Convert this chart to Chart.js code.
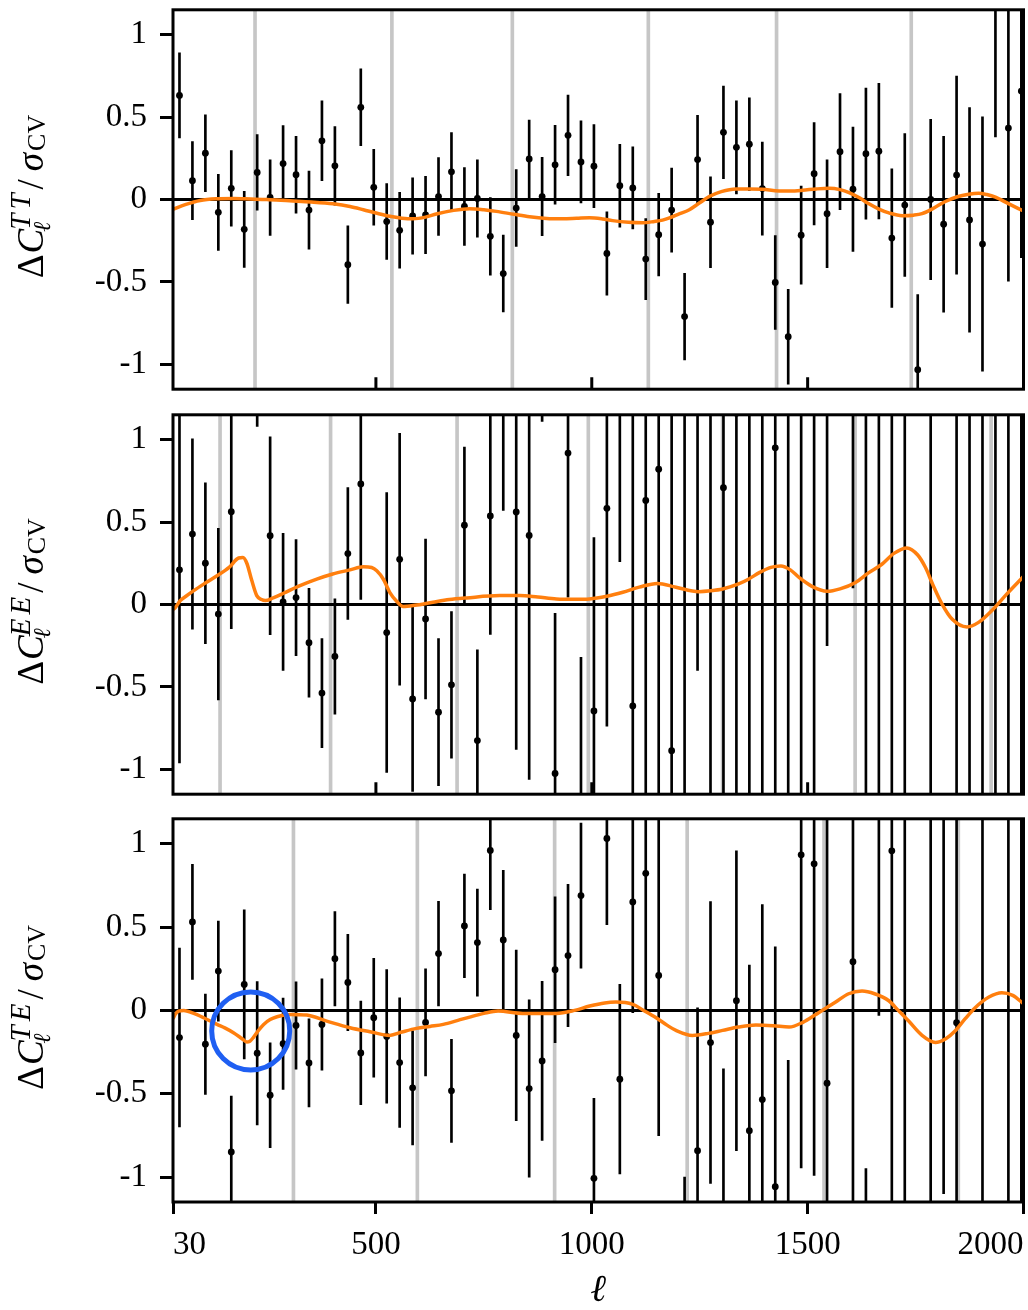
<!DOCTYPE html>
<html>
<head>
<meta charset="utf-8">
<script src="https://cdn.jsdelivr.net/npm/chart.js@4.4.1/dist/chart.umd.min.js"></script>
<style>
  body { margin: 0; background: #fff; width: 1028px; height: 1310px; overflow: hidden; position: relative; }
  canvas { position: absolute; left: 0; }
</style>
</head>
<body>
<canvas id="tt" width="1028" height="445" style="top:-23px"></canvas>
<canvas id="ee" width="1028" height="445" style="top:382px"></canvas>
<canvas id="te" width="1028" height="524" style="top:786px"></canvas>
<script>
// multipole bin centres
const ells = [45, 75, 105, 135, 165, 195, 225, 255, 285, 315, 345, 375, 405, 435, 465, 495, 525, 555,
  585, 615, 645, 675, 705, 735, 765, 795, 825, 855, 885, 915, 945, 975, 1005, 1035, 1065, 1095, 1125,
  1155, 1185, 1215, 1245, 1275, 1305, 1335, 1365, 1395, 1425, 1455, 1485, 1515, 1545, 1575, 1605, 1635,
  1665, 1695, 1725, 1755, 1785, 1815, 1845, 1875, 1905, 1935, 1965, 1995];

const ttValues = [0.631, 0.114, 0.281, -0.078, 0.068, -0.181, 0.164, 0.012, 0.218, 0.150,
  -0.064, 0.356, 0.204, -0.395, 0.559, 0.074, -0.134, -0.187, -0.100, -0.094,
  0.018, 0.168, -0.042, 0.006, -0.223, -0.449, -0.052, 0.246, 0.018, 0.210,
  0.389, 0.228, 0.202, -0.327, 0.084, 0.070, -0.361, -0.213, -0.064, -0.710,
  0.242, -0.138, 0.407, 0.316, 0.335, 0.066, -0.503, -0.832, -0.216, 0.156,
  -0.086, 0.290, 0.062, 0.278, 0.293, -0.234, -0.034, -1.032, 0.000, -0.150,
  0.148, -0.124, -0.270, 1.230, 0.433, 0.657];
const ttErrors = [0.258, 0.237, 0.233, 0.231, 0.229, 0.230, 0.229, 0.229, 0.230, 0.233,
  0.237, 0.242, 0.238, 0.235, 0.233, 0.230, 0.230, 0.230, 0.232, 0.234,
  0.236, 0.237, 0.236, 0.235, 0.235, 0.233, 0.233, 0.236, 0.237, 0.239,
  0.244, 0.249, 0.252, 0.253, 0.251, 0.249, 0.246, 0.251, 0.255, 0.263,
  0.268, 0.275, 0.280, 0.282, 0.281, 0.282, 0.284, 0.288, 0.297, 0.310,
  0.327, 0.352, 0.377, 0.398, 0.411, 0.420, 0.433, 0.455, 0.486, 0.533,
  0.600, 0.681, 0.771, 0.850, 0.928, 1.010];

const eeValues = [0.210, 0.427, 0.250, -0.058, 0.563, 1.900, 1.700, 0.417, 0.016, 0.042,
  -0.232, -0.537, -0.315, 0.309, 0.731, -1.900, -0.170, 0.274, -0.573, -0.088,
  -0.653, -0.487, 0.481, -0.825, 0.537, 1.600, 0.561, 0.419, 2.300, -1.024,
  0.918, -1.500, -0.645, 0.583, 1.600, -0.615, 0.631, 0.820, -0.886, 1.500,
  1.500, -1.400, 0.708, 1.160, -1.600, 1.700, 0.950, -1.700, 1.800, -1.300,
  1.400, 3.500, 1.800, -1.500, 1.600, -1.800, 1.700, -4.000, 1.900, 4.500,
  -1.600, 1.800, -2.000, 1.900, 2.100, -2.200];
const eeErrors = [1.170, 0.577, 0.487, 0.520, 0.709, 0.600, 0.620, 0.600, 0.416, 0.352,
  0.330, 0.331, 0.350, 0.400, 0.700, 0.600, 0.848, 0.763, 0.560, 0.484,
  0.446, 0.444, 0.473, 0.550, 0.718, 1.030, 1.440, 1.480, 1.190, 0.970,
  0.874, 1.180, 1.050, 1.320, 1.340, 1.900, 1.900, 2.000, 2.100, 2.800,
  1.900, 2.800, 2.200, 2.500, 3.000, 3.000, 3.000, 3.100, 3.200, 3.200,
  1.650, 1.500, 1.700, 3.300, 3.400, 3.400, 3.500, 1.500, 3.600, 2.000,
  3.700, 3.800, 3.900, 4.000, 4.200, 4.400];

const teValues = [-0.163, 0.531, -0.203, 0.236, -0.850, 0.156, -0.257, -0.509, -0.200, -0.090,
  -0.315, -0.084, 0.310, 0.168, -0.255, -0.044, -0.156, -0.313, -0.465, -0.072,
  0.341, -0.483, 0.507, 0.407, 0.960, 0.423, -0.150, -0.469, -0.303, 0.244,
  0.329, 0.689, -1.008, 1.032, -0.413, 0.651, 0.823, 0.210, 2.800, -1.900,
  -0.842, -0.193, -1.400, 0.058, -0.722, -0.535, -1.058, -1.600, 0.934, 0.880,
  -0.437, 3.500, 0.292, -2.600, 1.900, 0.958, -1.500, -4.200, 1.700, 2.100,
  -0.074, 4.500, -1.800, -4.800, 1.900, -2.000];
const teErrors = [0.537, 0.345, 0.301, 0.300, 0.335, 0.447, 0.430, 0.315, 0.274, 0.262,
  0.264, 0.274, 0.283, 0.289, 0.311, 0.357, 0.401, 0.389, 0.343, 0.321,
  0.314, 0.309, 0.311, 0.321, 0.355, 0.418, 0.512, 0.532, 0.478, 0.437,
  0.427, 0.435, 0.480, 0.517, 0.569, 0.665, 0.820, 0.962, 1.200, 0.900,
  0.858, 0.846, 1.050, 0.900, 0.994, 1.170, 1.440, 1.300, 1.880, 1.870,
  2.200, 1.800, 2.300, 1.650, 1.930, 2.400, 2.900, 2.000, 3.000, 3.200,
  2.600, 2.500, 3.300, 2.600, 3.500, 3.600];

// orange model curves
const ttModelEll = [30, 60, 93, 130, 170, 210, 247, 300, 350, 401, 440, 471, 500, 532, 560, 586, 615, 640,
  680, 717, 750, 779, 820, 856, 895, 933, 965, 995, 1025, 1048, 1085, 1118, 1145, 1164, 1180, 1200, 1226,
  1250, 1272, 1300, 1334, 1365, 1395, 1434, 1460, 1488, 1520, 1550, 1575, 1596, 1620, 1642, 1665, 1688,
  1719, 1745, 1765, 1790, 1819, 1845, 1873, 1896, 1915, 1935, 1965, 2000];
const ttModel = [-0.060, -0.030, -0.006, 0.004, 0.006, 0.003, 0.000, -0.008, -0.015, -0.026,
  -0.042, -0.062, -0.082, -0.102, -0.113, -0.117, -0.107, -0.088, -0.066, -0.056,
  -0.062, -0.072, -0.090, -0.105, -0.115, -0.117, -0.114, -0.111, -0.118, -0.128,
  -0.138, -0.141, -0.133, -0.125, -0.112, -0.090, -0.062, -0.020, 0.018, 0.048,
  0.064, 0.064, 0.062, 0.052, 0.052, 0.056, 0.064, 0.068, 0.060, 0.042,
  0.010, -0.026, -0.058, -0.081, -0.098, -0.095, -0.086, -0.055, -0.012, 0.015,
  0.032, 0.038, 0.030, 0.014, -0.025, -0.070];

const eeModelEll = [30, 35, 47, 60, 78, 105, 132, 160, 182, 192, 201, 212, 224, 235, 244, 262, 286, 320,
  363, 400, 440, 471, 490, 502, 518, 532, 548, 563, 590, 632, 670, 710, 787, 833, 875, 918, 960, 995,
  1035, 1072, 1110, 1152, 1195, 1248, 1275, 1303, 1340, 1364, 1388, 1415, 1438, 1460, 1480, 1510, 1545,
  1575, 1611, 1640, 1672, 1700, 1730, 1755, 1773, 1790, 1811, 1835, 1869, 1895, 1927, 1960, 2000];
const eeModel = [-0.030, -0.020, 0.024, 0.050, 0.084, 0.130, 0.174, 0.225, 0.282, 0.285,
  0.250, 0.150, 0.054, 0.030, 0.024, 0.040, 0.068, 0.110, 0.154, 0.185,
  0.210, 0.229, 0.224, 0.204, 0.150, 0.074, 0.020, -0.012, -0.005, 0.014,
  0.030, 0.040, 0.054, 0.054, 0.045, 0.034, 0.032, 0.034, 0.050, 0.074,
  0.105, 0.128, 0.105, 0.078, 0.083, 0.094, 0.125, 0.155, 0.193, 0.225,
  0.234, 0.210, 0.164, 0.110, 0.080, 0.095, 0.134, 0.190, 0.244, 0.310,
  0.343, 0.300, 0.224, 0.120, 0.004, -0.090, -0.136, -0.110, -0.036, 0.060,
  0.170];

const teModelEll = [30, 36, 43, 55, 75, 101, 132, 150, 170, 190, 201, 208, 216, 228, 240, 255, 271, 301,
  340, 386, 440, 486, 532, 560, 594, 625, 656, 690, 717, 750, 783, 840, 918, 960, 995, 1030, 1056, 1095,
  1120, 1149, 1175, 1195, 1233, 1270, 1303, 1340, 1380, 1420, 1457, 1490, 1519, 1565, 1595, 1626, 1655,
  1688, 1710, 1734, 1765, 1796, 1820, 1842, 1865, 1888, 1920, 1950, 1975, 2000];
const teModel = [-0.050, -0.020, -0.004, 0.000, -0.015, -0.044, -0.084, -0.105, -0.134, -0.170,
  -0.190, -0.185, -0.163, -0.120, -0.084, -0.055, -0.038, -0.024, -0.028, -0.064,
  -0.104, -0.128, -0.150, -0.130, -0.108, -0.096, -0.084, -0.060, -0.040, -0.018,
  -0.004, -0.018, -0.018, 0.000, 0.026, 0.045, 0.050, 0.036, 0.000, -0.044,
  -0.090, -0.120, -0.150, -0.138, -0.120, -0.100, -0.088, -0.092, -0.100, -0.070,
  -0.024, 0.050, 0.100, 0.116, 0.100, 0.058, 0.000, -0.064, -0.150, -0.193,
  -0.170, -0.122, -0.050, 0.016, 0.080, 0.106, 0.090, 0.040];

// grey vertical marker lines
const ttMarkers = [220, 537, 816, 1131, 1428, 1740];
const eeMarkers = [139, 395, 688, 992, 1303, 1610, 1925];
const teMarkers = [309, 596, 914, 1221, 1538, 1849];

// highlighted feature in the TE panel
const circleEll = [210];
const circleValue = [-0.123];

const xMin = 30, xMax = 2000;
const yMin = -1.15, yMax = 1.15;
const xTicks = [30, 500, 1000, 1500, 2000];
const xTickLabels = ['30', '500', '1000', '1500', '2000'];
const innerTicks = [500, 1000, 1500];
const yTicks = [-1, -0.5, 0, 0.5, 1];
const yTickLabels = ['-1', '-0.5', '0', '0.5', '1'];

const FONT = '"Liberation Serif", "DejaVu Serif", serif';

// rotated y label: ΔC_ℓ^{XY} / σ_CV
function drawYLabel(ctx, baseX, midY, sup) {
  const fMain = '37px ' + FONT, fIt = 'italic 37px ' + FONT;
  const fScr = 'italic 29px ' + FONT, fEll = 'italic 24px ' + FONT, fSub = '26px ' + FONT;
  const width = (f, t) => { ctx.font = f; return ctx.measureText(t).width; };
  const supGap = 4;
  const parts = [];
  let p = 0;
  parts.push({ t: 'Δ', f: fMain, x: p, dy: 0 }); p += width(fMain, 'Δ') + 1;
  parts.push({ t: 'C', f: fIt, x: p, dy: 0 }); p += width(fIt, 'C');
  let q = p - 1;
  for (const ch of sup) { parts.push({ t: ch, f: fScr, x: q, dy: -13 }); q += width(fScr, ch) + supGap; }
  parts.push({ t: 'ℓ', f: fEll, x: p - 3, dy: 7 });
  p = Math.max(q - supGap, p - 3 + width(fEll, 'ℓ')) + 4;
  parts.push({ t: '/', f: fMain, x: p, dy: 0 }); p += width(fMain, '/') + 8;
  parts.push({ t: 'σ', f: fIt, x: p, dy: 0 }); p += width(fIt, 'σ') + 2;
  parts.push({ t: 'CV', f: fSub, x: p, dy: 2 }); p += width(fSub, 'CV');

  ctx.save();
  ctx.translate(baseX, midY);
  ctx.rotate(-Math.PI / 2);
  ctx.fillStyle = '#000';
  ctx.textBaseline = 'alphabetic';
  ctx.textAlign = 'left';
  parts.forEach(o => { ctx.font = o.f; ctx.fillText(o.t, o.x - p / 2, o.dy); });
  ctx.restore();
}

// frame, inward ticks and y label
const panelDecor = {
  id: 'panelDecor',
  afterDatasetsDraw(chart, args, opts) {
    const { ctx, chartArea: a } = chart;
    const x = chart.scales.x;
    ctx.save();
    ctx.strokeStyle = '#000';
    ctx.lineWidth = 3;
    if (opts.innerTicks) {
      ctx.beginPath();
      innerTicks.forEach(v => {
        const px = x.getPixelForValue(v);
        ctx.moveTo(px, a.bottom);
        ctx.lineTo(px, a.bottom - 12);
      });
      ctx.stroke();
    }
    ctx.strokeRect(a.left, a.top, a.right - a.left, a.bottom - a.top);
    ctx.restore();
  },
  afterDraw(chart, args, opts) {
    const a = chart.chartArea;
    drawYLabel(chart.ctx, 43, (a.top + a.bottom) / 2 - 3, opts.sup);
  }
};

function buildPanel(id, values, errors, modelEll, model, markers, sup, isBottom) {
  const errorBars = ells.map((l, i) => ({ x: l, y: [values[i] - errors[i], values[i] + errors[i]] }));
  const points = ells.map((l, i) => ({ x: l, y: values[i] }));
  const curve = modelEll.map((l, i) => ({ x: l, y: model[i] }));
  const markerBars = markers.map(l => ({ x: l, y: [yMin, yMax] }));

  const datasets = [
    { type: 'bar', data: markerBars, backgroundColor: '#c6c6c6', borderWidth: 0, barThickness: 3, grouped: false, order: 5, clip: 0 },
    { type: 'line', data: [{ x: xMin, y: 0 }, { x: xMax, y: 0 }], borderColor: '#000', borderWidth: 3, pointRadius: 0, order: 4, clip: 0 },
    { type: 'bar', data: errorBars, backgroundColor: '#000', borderWidth: 0, barThickness: 2, grouped: false, order: 3, clip: 0 },
    { type: 'scatter', data: points, backgroundColor: '#000', borderWidth: 0, pointRadius: 3.4, order: 2, clip: 0 },
    { type: 'line', data: curve, borderColor: '#ff7f0e', borderWidth: 3.5, pointRadius: 0, cubicInterpolationMode: 'monotone', order: 1, clip: 0 }
  ];
  if (isBottom) {
    datasets.push({
      type: 'scatter',
      data: circleEll.map((l, i) => ({ x: l, y: circleValue[i] })),
      pointRadius: 39, borderColor: '#1f5ff2', borderWidth: 5, backgroundColor: 'rgba(0,0,0,0)',
      order: 0, clip: false
    });
  }

  const xScale = {
    type: 'linear', min: xMin, max: xMax, offset: false, display: isBottom,
    afterBuildTicks: s => { s.ticks = xTicks.map(v => ({ value: v })); },
    ticks: {
      callback: (v, i) => xTickLabels[i], align: 'inner', maxRotation: 0, autoSkip: false,
      font: { family: FONT, size: 33 }, color: '#000', padding: 12
    },
    grid: { offset: false, drawOnChartArea: false, drawTicks: true, tickLength: 12, tickWidth: 3, tickColor: '#000', lineWidth: 3 },
    border: { display: false },
    title: { display: true, text: 'ℓ', color: '#000', font: { family: FONT, size: 38, style: 'italic', lineHeight: 1 }, padding: 0 }
  };
  if (isBottom) {
    xScale.afterFit = s => {
      s.height = 108;
      s.paddingLeft = 0;
      s.paddingRight = 0;
    };
  }

  return new Chart(document.getElementById(id), {
    type: 'scatter',
    data: { datasets },
    options: {
      responsive: false,
      animation: false,
      devicePixelRatio: 1,
      events: [],
      layout: { autoPadding: false, padding: { top: 30, right: 4.5, bottom: isBottom ? 0 : 30, left: 0 } },
      plugins: {
        legend: { display: false },
        tooltip: { enabled: false },
        panelDecor: { sup: sup, innerTicks: !isBottom }
      },
      scales: {
        x: xScale,
        y: {
          min: yMin, max: yMax,
          afterBuildTicks: s => { s.ticks = yTicks.map(v => ({ value: v })); },
          afterFit: s => { s.width = 173; },
          ticks: { callback: (v, i) => yTickLabels[i], font: { family: FONT, size: 33 }, color: '#000', padding: 13 },
          grid: { offset: false, drawOnChartArea: false, drawTicks: true, tickLength: 13, tickWidth: 3, tickColor: '#000', lineWidth: 3 },
          border: { display: false }
        }
      }
    },
    plugins: [panelDecor]
  });
}

buildPanel('tt', ttValues, ttErrors, ttModelEll, ttModel, ttMarkers, 'TT', false);
buildPanel('ee', eeValues, eeErrors, eeModelEll, eeModel, eeMarkers, 'EE', false);
buildPanel('te', teValues, teErrors, teModelEll, teModel, teMarkers, 'TE', true);
</script>
</body>
</html>
